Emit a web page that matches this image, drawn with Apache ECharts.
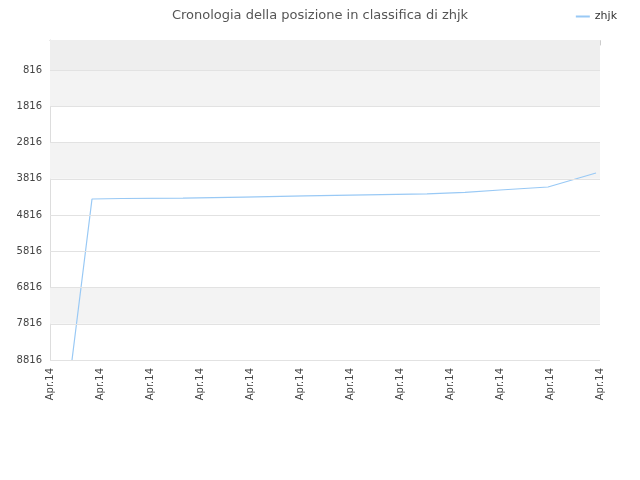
<!DOCTYPE html><html><head><meta charset="utf-8"><script src="https://cdn.jsdelivr.net/npm/echarts@6/dist/echarts.min.js"></script></head><body style="margin:0"><div id="c" style="width:640px;height:480px"></div><script>
const xTicks=[0,1,2,3,4,5,6,7,8,9,10,11];
const xLabel="Apr.14";
const yTicks=[816,1816,2816,3816,4816,5816,6816,7816,8816];
const xs=[0.44,0.84,1.44,2.66,2.70,3.88,3.92,5.10,5.14,6.32,6.36,7.54,7.58,8.3,9.0,9.96,10.92];
const ys=[8816,4375,4360,4350,4330,4320,4300,4290,4270,4262,4245,4235,4215,4190,4126,4044,3657];
const bands=[[-12,816,'#eeeeee'],[816,1816,'#f3f3f3'],[2816,3816,'#f3f3f3'],[6816,7816,'#f3f3f3']];
const ch=echarts.init(document.getElementById('c'));
ch.setOption({
title:{text:'Cronologia della posizione in classifica di zhjk',left:'center',top:4,textStyle:{fontSize:13,fontWeight:'normal',color:'#555',fontFamily:'DejaVu Sans'}},
legend:{right:18,top:6,itemWidth:14,itemHeight:2,icon:'rect',textStyle:{fontSize:11,color:'#333',fontFamily:'DejaVu Sans'}},
grid:{left:50,right:40,top:40,bottom:120},
xAxis:{type:'value',min:0,max:11,interval:1,axisLine:{lineStyle:{color:'#ccc'}},axisTick:{show:true,lineStyle:{color:'#ccc'}},splitLine:{show:false},
 axisLabel:{rotate:90,formatter:()=>xLabel,fontSize:10,color:'#444',fontFamily:'DejaVu Sans'}},
yAxis:{type:'value',inverse:true,min:-12,max:8816,axisLine:{show:true,lineStyle:{color:'#ddd'}},splitLine:{show:false},
 axisTick:{show:false},axisLabel:{customValues:yTicks,formatter:v=>String(v),fontSize:10,color:'#444',fontFamily:'DejaVu Sans'}},
series:[{name:'zhjk',type:'line',symbol:'none',color:'#99c9f5',lineStyle:{width:1.2},
 data:xs.map((x,i)=>[x,ys[i]]),
 markArea:{silent:true,data:bands.map(b=>[{yAxis:b[0],itemStyle:{color:b[2]}},{yAxis:b[1]}])},
 markLine:{silent:true,symbol:'none',label:{show:false},lineStyle:{color:'#e2e2e2',type:'solid',width:1},data:yTicks.map(v=>({yAxis:v}))}}]
});
</script></body></html>
